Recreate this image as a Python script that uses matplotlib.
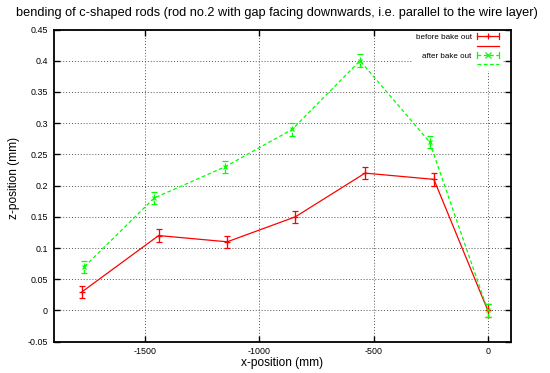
import matplotlib
matplotlib.use("Agg")
import matplotlib.pyplot as plt
from matplotlib.lines import Line2D
from matplotlib.legend_handler import HandlerBase

plt.rcParams['font.family'] = ['Liberation Sans', 'DejaVu Sans']

# measurements of rod no.2 before and after the bake out
x_before = [-1775, -1440, -1140, -842, -537, -236, 0]
z_before = [0.03, 0.12, 0.11, 0.15, 0.22, 0.21, 0.0]
err_before = [0.01, 0.01, 0.01, 0.01, 0.01, 0.01, 0.01]

x_after = [-1765, -1460, -1150, -856, -559, -255, 0]
z_after = [0.07, 0.18, 0.23, 0.29, 0.40, 0.27, 0.0]
err_after = [0.01, 0.01, 0.01, 0.01, 0.01, 0.01, 0.01]

xticks = [-1500, -1000, -500, 0]
yticks = [-0.05, 0, 0.05, 0.1, 0.15, 0.2, 0.25, 0.3, 0.35, 0.4, 0.45]
ytick_labels = ['-0.05', '0', '0.05', '0.1', '0.15', '0.2', '0.25',
                '0.3', '0.35', '0.4', '0.45']

RED = '#ff0000'
GREEN = '#00ff00'
DASH = (0, (3, 2))

fig = plt.figure(figsize=(5.5, 3.73), dpi=100)
ax = fig.add_axes([0.0973, 0.0839, 0.8312, 0.8370])

# error bars with point markers
eb_b = ax.errorbar(x_before, z_before, yerr=err_before, fmt='+', color=RED,
                   ms=4, mew=0.9, elinewidth=0.9, capsize=2.5, capthick=0.9,
                   zorder=4)
eb_a = ax.errorbar(x_after, z_after, yerr=err_after, fmt='x', color=GREEN,
                   ms=3.5, mew=0.9, elinewidth=0.9, capsize=2.5, capthick=0.9,
                   zorder=4)
for coll in eb_a[2]:
    coll.set_linestyle(DASH)

# connecting lines
ax.plot(x_before, z_before, color=RED, lw=0.9, zorder=3)
ax.plot(x_after, z_after, color=GREEN, lw=0.9, ls=DASH, zorder=3)

ax.set_xlim(-1900, 100)
ax.set_ylim(-0.05, 0.45)
ax.set_xticks(xticks)
ax.set_xticklabels([str(t) for t in xticks])
ax.set_yticks(yticks)
ax.set_yticklabels(ytick_labels)

ax.grid(True, color='#555555', ls=(0, (1, 2)), lw=0.7)
ax.tick_params(direction='in', length=4, width=1.0, top=True, right=True,
               labelsize=6.4, pad=4, colors='black')
ax.tick_params(axis='x', pad=4)
for sp in ax.spines.values():
    sp.set_linewidth(1.3)


class BarSample(HandlerBase):
    """Key sample drawn as a horizontal error bar with a point marker."""

    def __init__(self, color, marker, ls):
        super().__init__()
        self.color = color
        self.marker = marker
        self.ls = ls

    def create_artists(self, legend, orig_handle, xdescent, ydescent, width,
                       height, fontsize, trans):
        y = height / 2 - ydescent
        arts = [Line2D([-xdescent, width - xdescent], [y, y], color=self.color,
                       lw=0.9, ls=self.ls, transform=trans)]
        for xx in (-xdescent, width - xdescent):
            arts.append(Line2D([xx, xx], [y - 2.2, y + 2.2], color=self.color,
                               lw=0.9, transform=trans))
        arts.append(Line2D([width / 2 - xdescent], [y], color=self.color,
                           marker=self.marker, ms=4, mew=0.9, ls='none',
                           transform=trans))
        return arts


hb = Line2D([], [], color=RED, marker='+', ms=4, mew=0.9, lw=0.9)
hb_line = Line2D([], [], color=RED, lw=0.9)
ha = Line2D([], [], color=GREEN, marker='x', ms=3.5, mew=0.9, lw=0.9, ls=DASH)
ha_line = Line2D([], [], color=GREEN, lw=0.9, ls=DASH)

leg = ax.legend([hb, hb_line, ha, ha_line],
                ['before bake out', '', 'after bake out', ''],
                handler_map={hb: BarSample(RED, '+', '-'),
                             ha: BarSample(GREEN, 'x', DASH)},
                loc='upper right', bbox_to_anchor=(0.98, 0.995),
                markerfirst=False, fontsize=5.8, frameon=True,
                handlelength=2.8, handletextpad=0.6, labelspacing=0.2,
                borderpad=0.3, borderaxespad=0.0, fancybox=False)
leg.get_frame().set_edgecolor('none')
leg.get_frame().set_facecolor('white')
leg.get_frame().set_alpha(1.0)
leg.set_zorder(5)

fig.text(0.504, 0.966, 'bending of c-shaped rods (rod no.2 with gap facing '
         'downwards, i.e. parallel to the wire layer)',
         ha='center', va='center', fontsize=9.2)
fig.text(0.512, 0.027, 'x-position (mm)', ha='center', va='center', fontsize=8.6)
fig.text(0.026, 0.523, 'z-position (mm)', ha='center', va='center',
         rotation=90, fontsize=8.6)

fig.savefig('out.png', dpi=100)
